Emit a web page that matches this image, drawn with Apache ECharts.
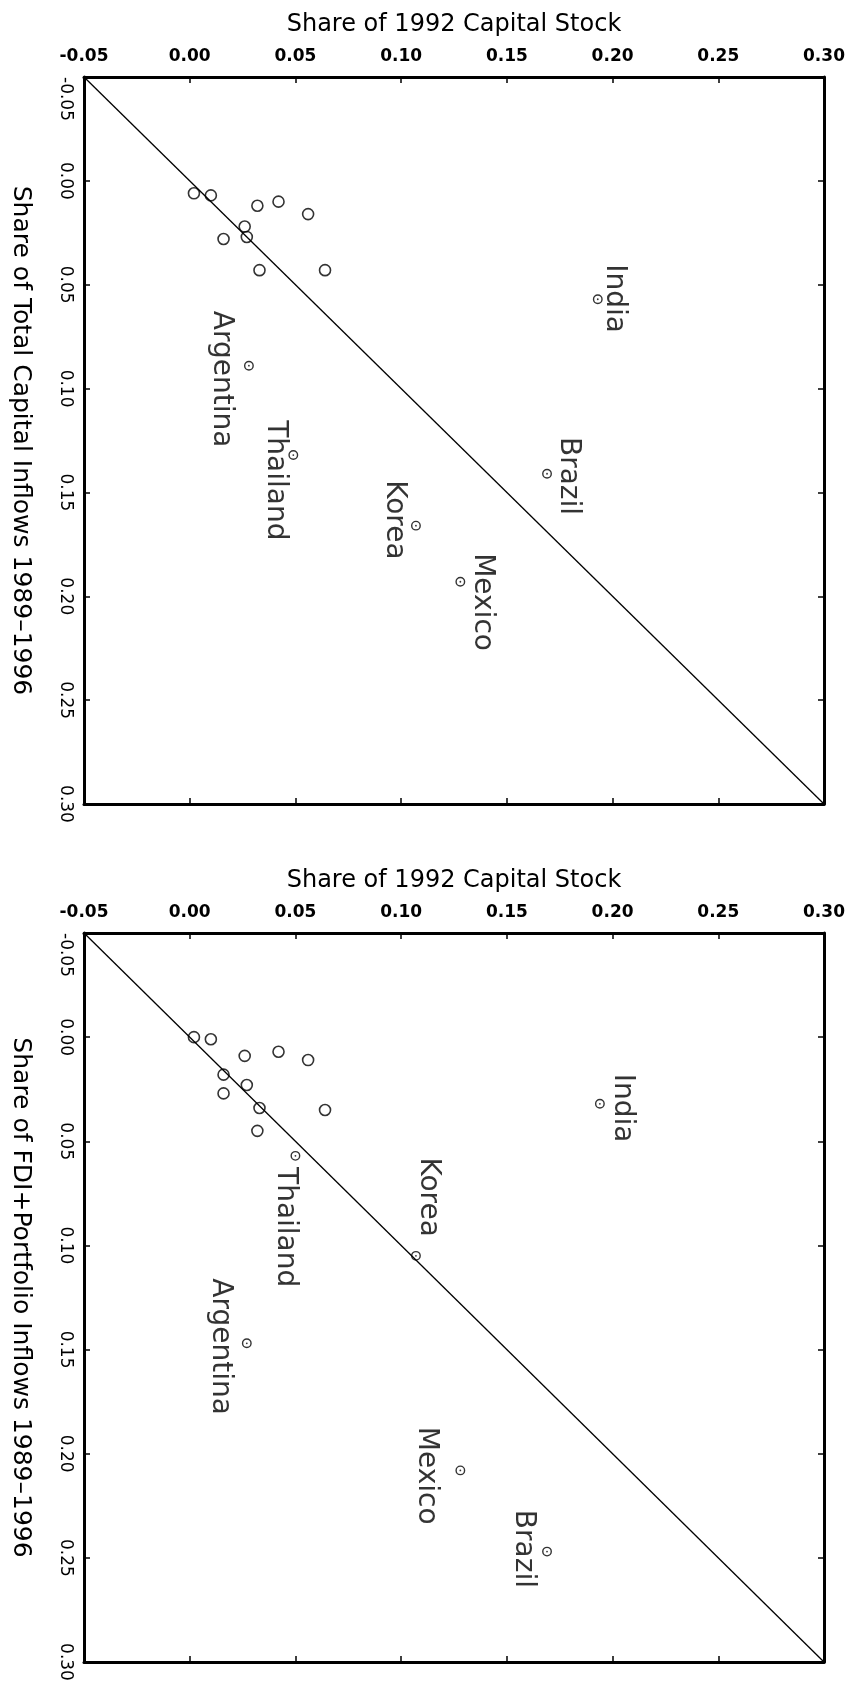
<!DOCTYPE html>
<html>
<head>
<meta charset="utf-8">
<title>Capital inflows vs capital stock shares</title>
<script src="https://cdn.jsdelivr.net/npm/echarts@6/dist/echarts.min.js"></script>
<style>
  html, body { margin: 0; padding: 0; background: #fff; }
  #chart { width: 849px; height: 1689px; }
</style>
</head>
<body>
<div id="chart"></div>
<script>
// ---- data -------------------------------------------------------------
// Axis range and tick labels shared by both panels
const axisMin = -0.05;
const axisMax = 0.30;
const axisStep = 0.05;

// 45-degree reference line endpoints
const parityLine = [-0.05, 0.30];

// Panel 1: total capital inflows, 1989-1996
const p1OtherCapital = [0.002, 0.010, 0.016, 0.026, 0.027, 0.032, 0.033, 0.042, 0.056, 0.064];
const p1OtherInflow  = [0.006, 0.007, 0.028, 0.022, 0.027, 0.012, 0.043, 0.010, 0.016, 0.043];
const p1Names   = ['India', 'Brazil', 'Korea', 'Mexico', 'Argentina', 'Thailand'];
const p1Capital = [0.193, 0.169, 0.107, 0.128, 0.028, 0.049];
const p1Inflow  = [0.057, 0.141, 0.166, 0.193, 0.089, 0.132];

// Panel 2: FDI + portfolio inflows, 1989-1996
const p2OtherCapital = [0.002, 0.010, 0.016, 0.016, 0.026, 0.027, 0.032, 0.033, 0.042, 0.056, 0.064];
const p2OtherInflow  = [0.000, 0.001, 0.018, 0.027, 0.009, 0.023, 0.045, 0.034, 0.007, 0.011, 0.035];
const p2Names   = ['India', 'Brazil', 'Korea', 'Mexico', 'Argentina', 'Thailand'];
const p2Capital = [0.194, 0.169, 0.107, 0.128, 0.027, 0.050];
const p2Inflow  = [0.032, 0.247, 0.105, 0.208, 0.147, 0.057];

const xTitle = 'Share of 1992 Capital Stock';
const yTitles = [
  'Share of Total Capital Inflows 1989\u20131996',
  'Share of FDI+Portfolio Inflows 1989\u20131996'
];

// ---- label placement (screen pixels relative to the marker) ----------
const labelShift = [
  { India: [17, 0], Brazil: [22, 3], Korea: [-21, -5], Mexico: [23, 21], Argentina: [-27, 14], Thailand: [-17, 26] },
  { India: [23, 5], Brazil: [-23, -2], Korea: [13, -58], Mexico: [-33, 6], Argentina: [-26, 4], Thailand: [-9, 72] }
];

// ---- styling ----------------------------------------------------------
const FONT = 'DejaVu Sans';
const INK = '#000';
const OTHER_SIZE = 11;
const NAMED_SIZE = 8.5;

const grids = [
  { left: 81, top: 77, width: 743, height: 727 },
  { left: 80, top: 933, width: 744, height: 729 }
];

function fmt(v) {
  if (Math.abs(v) < 1e-9) return '0.00';
  return v.toFixed(2);
}

const xAxes = [];
const yAxes = [];
const series = [];

grids.forEach(function (g, gi) {
  const common = {
    gridIndex: gi, type: 'value', min: axisMin, max: axisMax, interval: axisStep,
    splitLine: { show: false },
    axisLine: { show: true, onZero: false, lineStyle: { color: INK, width: 3 } },
    axisTick: { show: true, inside: true, length: 6, lineStyle: { color: INK, width: 1.5 } }
  };
  xAxes.push(Object.assign({}, common, {
    position: 'top',
    name: xTitle, nameLocation: 'middle', nameGap: 40,
    nameTextStyle: { fontFamily: FONT, fontSize: 24, color: INK },
    axisLabel: { show: true, margin: 12, formatter: fmt, fontFamily: FONT, fontSize: 17, fontWeight: 'bold', color: INK }
  }));
  xAxes.push(Object.assign({}, common, {
    position: 'bottom', axisLabel: { show: false }
  }));
  yAxes.push(Object.assign({}, common, {
    position: 'left', inverse: true,
    name: yTitles[gi], nameLocation: 'middle', nameGap: 51, nameRotate: -90,
    nameTextStyle: { fontFamily: FONT, fontSize: 25, color: INK },
    axisLabel: {
      show: true, rotate: -90, margin: 10, formatter: fmt, alignMinLabel: 'left',
      fontFamily: FONT, fontSize: 17, color: INK
    }
  }));
  yAxes.push(Object.assign({}, common, {
    position: 'right', inverse: true, axisLabel: { show: false }
  }));
});

function addPanel(gi, otherX, otherY, names, capX, inflY) {
  const xi = gi * 2, yi = gi * 2;
  // 45-degree line
  series.push({
    type: 'line', xAxisIndex: xi, yAxisIndex: yi,
    data: [[parityLine[0], parityLine[0]], [parityLine[1], parityLine[1]]],
    symbol: 'none', silent: true, animation: false,
    lineStyle: { color: INK, width: 1.3 }
  });
  // unlabelled economies
  series.push({
    type: 'scatter', xAxisIndex: xi, yAxisIndex: yi, animation: false,
    symbol: 'circle', symbolSize: OTHER_SIZE,
    itemStyle: { color: 'rgba(0,0,0,0)', borderColor: INK, borderWidth: 1.6 },
    data: otherX.map(function (x, i) { return [x, otherY[i]]; })
  });
  // labelled economies
  series.push({
    type: 'scatter', xAxisIndex: xi, yAxisIndex: yi, animation: false,
    symbol: 'circle', symbolSize: NAMED_SIZE,
    itemStyle: { color: 'rgba(0,0,0,0)', borderColor: INK, borderWidth: 1.4 },
    data: names.map(function (n, i) {
      const s = labelShift[gi][n];
      return {
        name: n, value: [capX[i], inflY[i]],
        label: {
          show: true, formatter: n, rotate: -90,
          position: [NAMED_SIZE / 2 + s[0], NAMED_SIZE / 2 + s[1]],
          align: 'center', verticalAlign: 'middle',
          fontFamily: FONT, fontSize: 28, color: INK
        }
      };
    })
  });
  // centre dots of labelled markers
  series.push({
    type: 'scatter', xAxisIndex: xi, yAxisIndex: yi, animation: false, silent: true,
    symbol: 'circle', symbolSize: 1.8,
    itemStyle: { color: INK },
    data: names.map(function (n, i) { return [capX[i], inflY[i]]; })
  });
}

addPanel(0, p1OtherCapital, p1OtherInflow, p1Names, p1Capital, p1Inflow);
addPanel(1, p2OtherCapital, p2OtherInflow, p2Names, p2Capital, p2Inflow);

const chart = echarts.init(document.getElementById('chart'), null, { renderer: 'canvas' });
chart.setOption({
  animation: false,
  backgroundColor: '#fff',
  grid: grids.map(function (g) { return Object.assign({ containLabel: false }, g); }),
  xAxis: xAxes,
  yAxis: yAxes,
  series: series
});
</script>
</body>
</html>
